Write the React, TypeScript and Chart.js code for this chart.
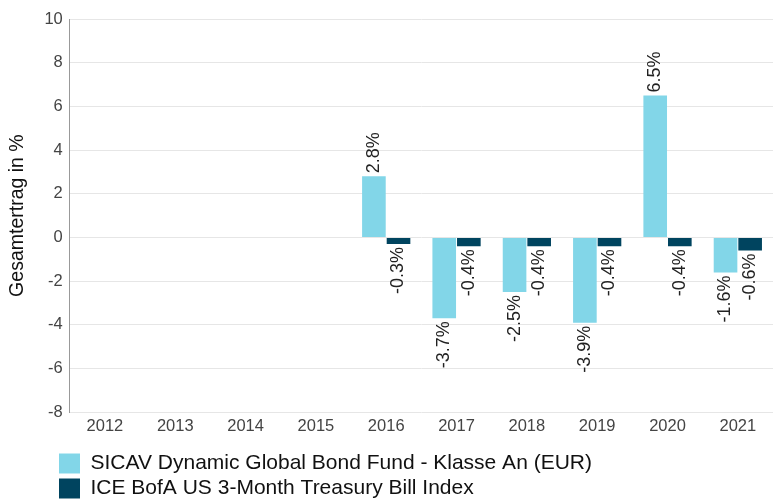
import React, { useEffect, useRef } from "react";
import { Chart, registerables } from "chart.js";

Chart.register(...registerables);

const categories = ["2012", "2013", "2014", "2015", "2016", "2017", "2018", "2019", "2020", "2021"];
const fundValues: (number | null)[] = [null, null, null, null, 2.8, -3.7, -2.5, -3.9, 6.5, -1.6];
const indexValues: (number | null)[] = [null, null, null, null, -0.3, -0.4, -0.4, -0.4, -0.4, -0.6];
const seriesNames = [
  "SICAV Dynamic Global Bond Fund - Klasse An (EUR)",
  "ICE BofA US 3-Month Treasury Bill Index",
];
const yTitle = "Gesamtertrag in %";

const FONT = "Arial, 'Liberation Sans', sans-serif";

const valueLabels = {
  id: "valueLabels",
  afterDatasetsDraw(chart: any) {
    const ctx = chart.ctx;
    ctx.save();
    ctx.font = `18px ${FONT}`;
    ctx.fillStyle = "#222";
    ctx.textBaseline = "middle";
    chart.data.datasets.forEach((ds: any, i: number) => {
      const meta = chart.getDatasetMeta(i);
      meta.data.forEach((el: any, j: number) => {
        const v = ds.data[j];
        if (v === null || v === undefined) return;
        const text = v.toFixed(1) + "%";
        ctx.save();
        ctx.translate(el.x, el.y);
        ctx.rotate(-Math.PI / 2);
        if (v >= 0) {
          ctx.textAlign = "left";
          ctx.fillText(text, 3, 0);
        } else {
          ctx.textAlign = "right";
          ctx.fillText(text, -3, 0);
        }
        ctx.restore();
      });
    });
    ctx.restore();
  },
};

const legendShift = {
  id: "legendShift",
  afterLayout(chart: any) {
    const lg = chart.legend;
    if (lg) {
      const w = lg.right - lg.left;
      lg.left = 55;
      lg.right = 55 + w;
      lg.top += 9;
      lg.bottom += 9;
    }
  },
};

export default function App() {
  const ref = useRef<HTMLCanvasElement | null>(null);
  useEffect(() => {
    document.body.style.margin = "0";
    const chart = new Chart(ref.current as HTMLCanvasElement, {
      type: "bar",
      data: {
        labels: categories,
        datasets: [
          {
            label: seriesNames[0],
            data: fundValues,
            backgroundColor: "#82d6e8",
            barPercentage: 0.96,
            categoryPercentage: 0.7,
          },
          {
            label: seriesNames[1],
            data: indexValues,
            backgroundColor: "#00445f",
            barPercentage: 0.96,
            categoryPercentage: 0.7,
          },
        ],
      },
      options: {
        animation: false,
        responsive: false,
        layout: { padding: { top: 19, right: 0, left: 6, bottom: 0 } },
        scales: {
          x: {
            grid: { display: false, drawTicks: false },
            border: { display: false },
            ticks: { color: "#444", font: { size: 16.5, family: FONT }, padding: 4 },
          },
          y: {
            min: -8,
            max: 10,
            ticks: { stepSize: 2, color: "#444", font: { size: 16.5, family: FONT }, padding: 7 },
            grid: { color: "#e6e6e6", drawTicks: false },
            border: { display: true, color: "#999" },
            title: {
              display: true,
              text: yTitle,
              color: "#111",
              font: { size: 19.5, family: FONT },
              padding: { top: 0, bottom: 8 },
            },
          },
        },
        plugins: {
          tooltip: { enabled: false },
          legend: {
            position: "bottom",
            align: "start",
            labels: {
              boxWidth: 21,
              boxHeight: 20,
              padding: 4,
              color: "#111",
              font: { size: 21, family: FONT },
            },
          },
        },
      },
      plugins: [valueLabels, legendShift],
    });
    return () => chart.destroy();
  }, []);
  return (
    <div style={{ width: 773, height: 500 }}>
      <canvas ref={ref} width={773} height={500} style={{ display: "block" }} />
    </div>
  );
}
